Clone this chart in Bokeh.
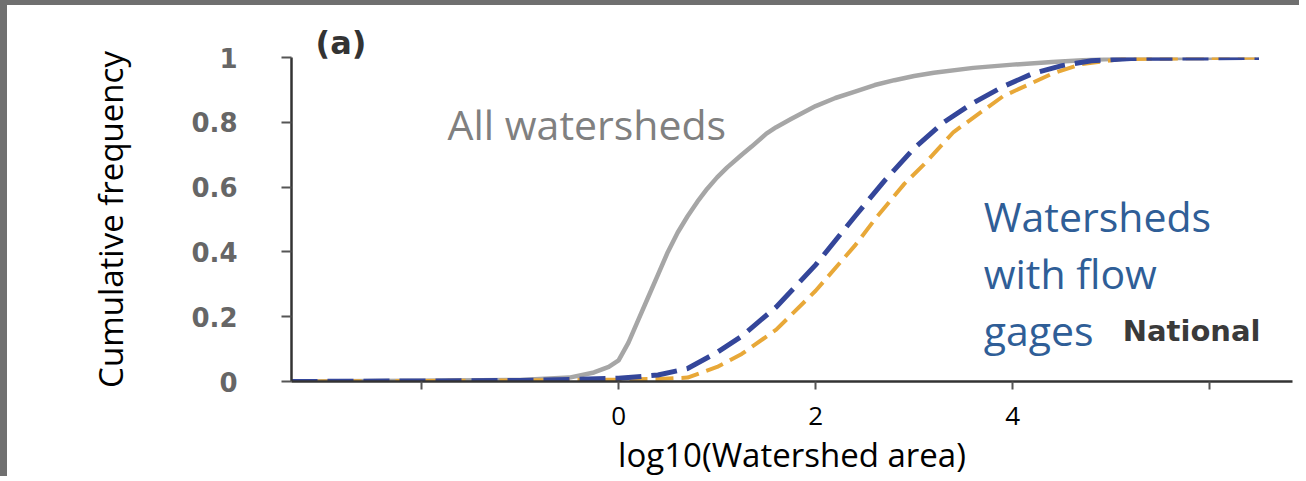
from bokeh.plotting import figure
from bokeh.models import Range1d, FixedTicker, Label
from bokeh.embed import file_html
from bokeh.resources import INLINE

# ---- data ----
x_all = [-3.32, -2.0, -1.0, -0.5, -0.25, -0.1, 0.0, 0.1, 0.2, 0.3, 0.4, 0.5, 0.6, 0.7, 0.8, 0.9, 1.0,
         1.1, 1.25, 1.35, 1.5, 1.6, 1.75, 2.0, 2.2, 2.4, 2.6, 2.8, 3.0, 3.2, 3.6, 4.0, 4.4, 4.8, 5.2, 6.5]
y_all = [0.0, 0.002, 0.005, 0.012, 0.028, 0.045, 0.065, 0.12, 0.19, 0.26, 0.33, 0.40, 0.46, 0.51, 0.555, 0.595, 0.63,
         0.66, 0.70, 0.725, 0.765, 0.785, 0.81, 0.85, 0.875, 0.895, 0.915, 0.93, 0.943, 0.953, 0.968, 0.978,
         0.986, 0.993, 0.998, 1.0]

x_gaged = [-3.32, -1.0, 0.0, 0.4, 0.7, 1.0, 1.25, 1.6, 2.0, 2.4, 2.7, 3.0, 3.3, 3.6,
           3.9, 4.2, 4.5, 4.8, 5.2, 6.5]
y_gaged = [0.0, 0.003, 0.01, 0.02, 0.04, 0.09, 0.14, 0.23, 0.36, 0.51, 0.62, 0.72, 0.80, 0.86,
           0.91, 0.95, 0.975, 0.99, 0.997, 1.0]

x_national = [-3.32, -1.0, 0.0, 0.4, 0.7, 1.0, 1.25, 1.6, 2.0, 2.4, 2.6, 2.9, 3.1, 3.4,
              3.9, 4.4, 4.7, 5.1, 6.5]
y_national = [0.0, 0.003, 0.006, 0.008, 0.012, 0.045, 0.085, 0.16, 0.28, 0.42, 0.50, 0.61, 0.67, 0.77,
              0.88, 0.95, 0.98, 0.995, 1.0]

x_ticks = [-2, 0, 2, 4, 6]
x_tick_labels = ["", "0", "2", "4", ""]
y_ticks = [0, 0.2, 0.4, 0.6, 0.8, 1.0]
y_tick_labels = ["0", "0.2", "0.4", "0.6", "0.8", "1"]

p = figure(width=1299, height=476, output_backend="svg", toolbar_location=None,
           x_range=Range1d(-3.32, 6.84), y_range=Range1d(0, 1),
           min_border_left=284, min_border_right=14, min_border_top=52, min_border_bottom=100)
p.styles = {"border-left": "7px solid #707070", "border-top": "5px solid #707070"}
p.outline_line_color = None
p.xgrid.visible = False
p.ygrid.visible = False
p.background_fill_color = "white"
p.border_fill_color = "white"

p.title.text = "(a)"
p.title.align = "left"
p.title.offset = 24
p.title.standoff = -8
p.title.text_font = "DejaVu Sans"
p.title.text_font_style = "bold"
p.title.text_font_size = "32px"
p.title.text_color = "#333333"

p.line(x_all, y_all, line_color="#a6a6a6", line_width=4.5, line_join="round")
p.line(x_national, y_national, line_color="#e8a838", line_width=4, line_dash="18 8")
p.line(x_gaged, y_gaged, line_color="#34469a", line_width=5, line_dash="26 10")

# x axis
xa = p.xaxis[0]
xa.ticker = FixedTicker(ticks=x_ticks)
xa.major_label_overrides = {t: l for t, l in zip(x_ticks, x_tick_labels)}
xa.minor_tick_line_color = None
xa.axis_line_color = "#333333"
xa.axis_line_width = 2.5
xa.major_tick_line_color = "#555555"
xa.major_tick_line_width = 2
xa.major_tick_in = 0
xa.major_tick_out = 8
xa.major_label_text_font = "Open Sans"
xa.major_label_text_font_size = "26px"
xa.major_label_text_color = "black"
xa.major_label_standoff = 17
xa.axis_label = "log10(Watershed area)"
xa.axis_label_text_font = "Open Sans"
xa.axis_label_text_font_size = "33px"
xa.axis_label_text_font_style = "normal"
xa.axis_label_text_color = "black"
xa.axis_label_standoff = 4

# y axis
ya = p.yaxis[0]
ya.ticker = FixedTicker(ticks=y_ticks)
ya.major_label_overrides = {t: l for t, l in zip(y_ticks, y_tick_labels)}
ya.minor_tick_line_color = None
ya.axis_line_color = "#333333"
ya.axis_line_width = 2.5
ya.major_tick_line_color = "#555555"
ya.major_tick_line_width = 2
ya.major_tick_in = 0
ya.major_tick_out = 10
ya.major_label_text_font = "DejaVu Sans"
ya.major_label_text_font_style = "bold"
ya.major_label_text_font_size = "26px"
ya.major_label_text_color = "#666666"
ya.major_label_standoff = 44
ya.axis_label = "Cumulative frequency"
ya.axis_label_text_font = "Open Sans"
ya.axis_label_text_font_size = "33px"
ya.axis_label_text_font_style = "normal"
ya.axis_label_text_color = "black"
ya.axis_label_standoff = 55

# annotations
p.add_layout(Label(x=-1.736, y=0.796, text="All watersheds", text_font="Open Sans",
                   text_font_size="41px", text_color="#808080", text_baseline="alphabetic"))
blue_lines = ["Watersheds", "with flow", "gages"]
blue_y = [0.512, 0.336, 0.160]
for t, yy in zip(blue_lines, blue_y):
    p.add_layout(Label(x=3.706, y=yy, text=t, text_font="Open Sans", text_font_size="41px",
                       text_color="#2f5e97", text_baseline="alphabetic"))
p.add_layout(Label(x=5.117, y=0.157, text="National", text_font="DejaVu Sans", text_font_style="bold",
                   text_font_size="29px", text_color="#3a3a3a", text_baseline="alphabetic"))

open("out.html", "w").write(file_html(p, INLINE))
